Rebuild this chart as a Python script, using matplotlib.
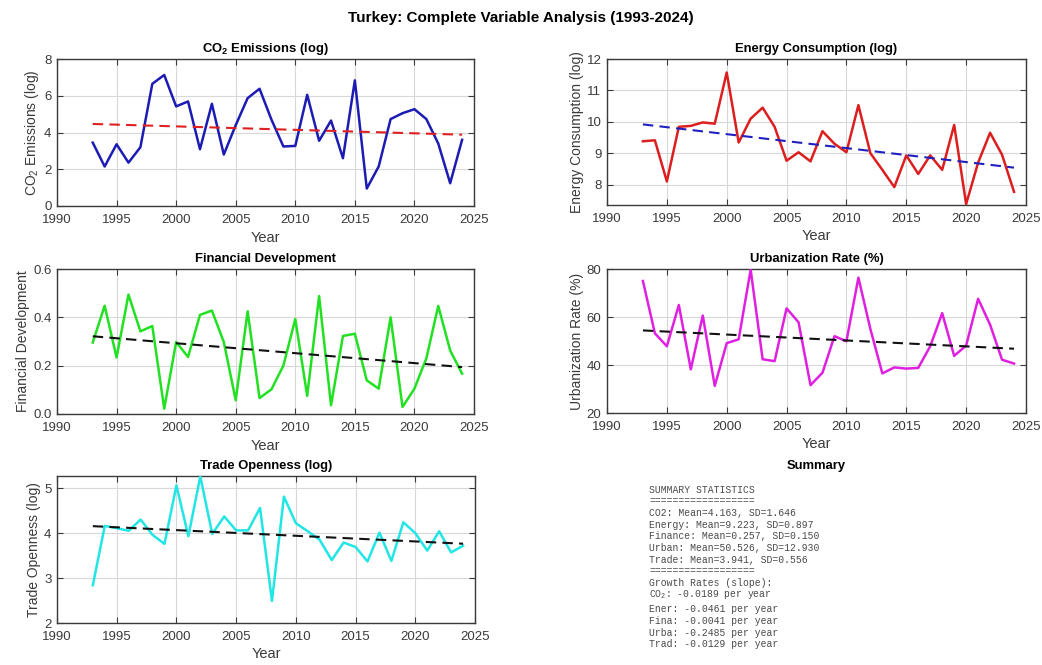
import numpy as np
import matplotlib
matplotlib.use('Agg')
import matplotlib.pyplot as plt

plt.rcParams['font.family'] = ['Liberation Sans', 'DejaVu Sans']
plt.rcParams['mathtext.default'] = 'regular'

years = np.arange(1993, 2025)

co2 = [3.45, 2.15, 3.36, 2.36, 3.20, 6.65, 7.13, 5.42, 5.69, 3.09,
       5.56, 2.80, 4.40, 5.87, 6.38, 4.70, 3.24, 3.27, 6.05, 3.55,
       4.65, 2.60, 6.84, 0.95, 2.15, 4.73, 5.05, 5.27, 4.73, 3.40,
       1.24, 3.60]
energy = [9.38, 9.41, 8.10, 9.84, 9.87, 9.98, 9.94, 11.57, 9.34, 10.10,
          10.45, 9.84, 8.76, 9.03, 8.74, 9.70, 9.30, 9.03, 10.53, 9.00,
          8.47, 7.92, 8.93, 8.34, 8.93, 8.47, 9.90, 7.38, 8.70, 9.65,
          8.95, 7.77]
finance = [0.296, 0.448, 0.234, 0.494, 0.342, 0.364, 0.022, 0.298, 0.236, 0.410,
           0.428, 0.298, 0.057, 0.425, 0.066, 0.102, 0.200, 0.393, 0.075, 0.488,
           0.036, 0.323, 0.332, 0.139, 0.105, 0.400, 0.029, 0.105, 0.230, 0.447,
           0.263, 0.167]
urban = [75.0, 53.2, 47.8, 65.0, 38.2, 60.6, 31.3, 49.1, 50.7, 79.7,
         42.4, 41.6, 63.6, 57.8, 31.6, 36.8, 52.0, 49.9, 76.4, 55.0,
         36.5, 39.0, 38.5, 38.8, 47.8, 61.6, 43.8, 48.1, 67.6, 56.8,
         42.2, 40.6]
trade = [2.84, 4.16, 4.11, 4.05, 4.30, 3.96, 3.76, 5.06, 3.93, 5.26,
         3.98, 4.37, 4.06, 4.06, 4.56, 2.49, 4.81, 4.22, 4.04, 3.85,
         3.40, 3.79, 3.69, 3.37, 4.01, 3.38, 4.24, 4.00, 3.61, 4.04,
         3.57, 3.72]

summary_lines = [
    'SUMMARY STATISTICS',
    '==================',
    'CO2: Mean=4.163, SD=1.646',
    'Energy: Mean=9.223, SD=0.897',
    'Finance: Mean=0.257, SD=0.150',
    'Urban: Mean=50.526, SD=12.930',
    'Trade: Mean=3.941, SD=0.556',
    '==================',
    'Growth Rates (slope):',
    'CO$_2$: -0.0189 per year',
    'Ener: -0.0461 per year',
    'Fina: -0.0041 per year',
    'Urba: -0.2485 per year',
    'Trad: -0.0129 per year',
]

fig = plt.figure(figsize=(10.42, 6.65), dpi=100)
fig.patch.set_facecolor('white')

W, H = 1042.0, 665.0


def box(x0, y0, x1, y1):
    return [x0 / W, 1 - y1 / H, (x1 - x0) / W, (y1 - y0) / H]


def panel(rect, y, color, trend_color, title, ylabel, ylim, yticks):
    ax = fig.add_axes(rect)
    ax.plot(years, y, color=color, lw=1.8, zorder=3)
    p = np.polyfit(years, y, 1)
    ax.plot(years, np.polyval(p, years), '--', color=trend_color, lw=1.5,
            dashes=(5, 3), zorder=4)
    ax.set_xlim(1990, 2025)
    ax.set_xticks(np.arange(1990, 2026, 5))
    ax.set_ylim(*ylim)
    ax.set_yticks(yticks)
    ax.grid(True, color='#d8d8d8', lw=0.8)
    ax.set_axisbelow(True)
    ax.tick_params(direction='in', top=True, right=True, labelsize=9.5,
                   colors='#3a3a3a', length=4, width=0.8)
    ax.tick_params(axis='x', pad=6)
    ax.tick_params(axis='y', pad=4)
    for s in ax.spines.values():
        s.set_color('#3a3a3a')
        s.set_linewidth(1.0)
    ax.set_title(title, fontsize=9.4, fontweight='bold', pad=5)
    ax.set_xlabel('Year', fontsize=10.5, color='#3a3a3a', labelpad=3)
    ax.set_ylabel(ylabel, fontsize=10, color='#3a3a3a', labelpad=2)
    return ax


panel(box(57, 59, 474, 206), co2, '#1c1cb4', '#e02020',
      'CO$_2$ Emissions (log)', 'CO$_2$ Emissions (log)', (0, 8), [0, 2, 4, 6, 8])
panel(box(607, 59, 1026, 205), energy, '#dc1e1e', '#2020c0',
      'Energy Consumption (log)', 'Energy Consumption (log)', (7.35, 12), [8, 9, 10, 11, 12])
panel(box(57, 269, 474, 414), finance, '#22e022', '#111111',
      'Financial Development', 'Financial Development', (0, 0.6), [0, 0.2, 0.4, 0.6])
panel(box(607, 269, 1026, 413), urban, '#e020e0', '#111111',
      'Urbanization Rate (%)', 'Urbanization Rate (%)', (20, 80), [20, 40, 60, 80])
panel(box(57, 476, 475, 623), trade, '#22e5e5', '#111111',
      'Trade Openness (log)', 'Trade Openness (log)', (2, 5.27), [2, 3, 4, 5])

# summary panel, text only
fig.text(816 / W, 1 - 466 / H, 'Summary', ha='center', va='center',
         fontsize=9.4, fontweight='bold')
ly = 490.0
for i, line in enumerate(summary_lines):
    fig.text(649 / W, 1 - ly / H, line, ha='left', va='center',
             family='Liberation Mono', fontsize=7, color='#4a4a4a')
    ly += 15.0 if i == 9 else 11.6

fig.suptitle('Turkey: Complete Variable Analysis (1993-2024)', fontsize=11,
             fontweight='bold', y=1 - 18 / H, va='center')

plt.savefig('out.png', dpi=100)
